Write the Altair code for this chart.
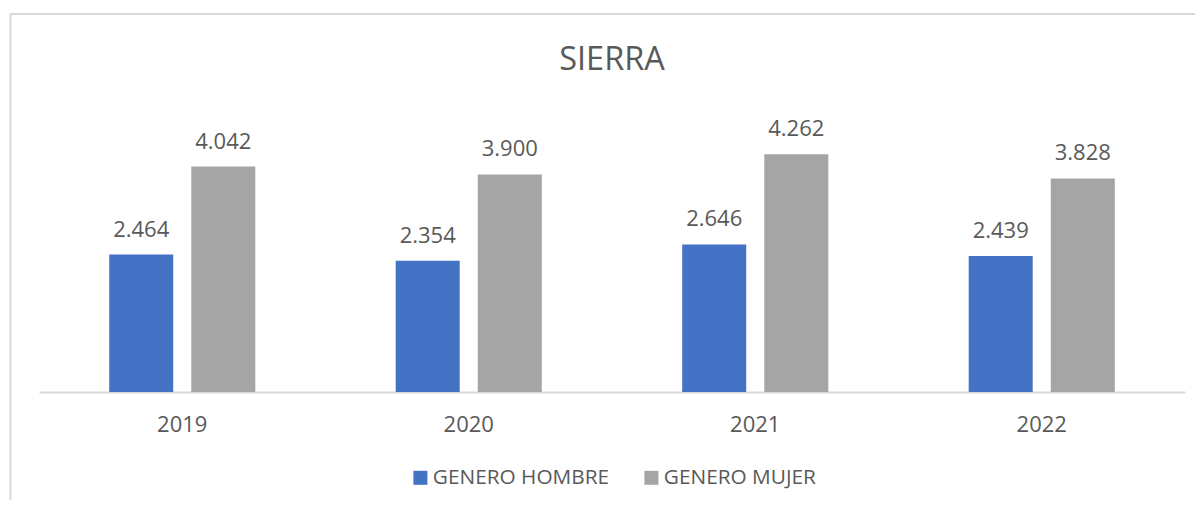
import altair as alt
import pandas as pd

years = ["2019", "2020", "2021", "2022"]
hombre = [2464, 2354, 2646, 2439]
mujer = [4042, 3900, 4262, 3828]
series = ["GENERO HOMBRE", "GENERO MUJER"]
colors = ["#4472C4", "#A5A5A5"]

rows = []
for i, y in enumerate(years):
    for s, vals in zip(series, [hombre, mujer]):
        v = vals[i]
        rows.append({"year": y, "serie": s, "value": v,
                     "label": f"{v:,}".replace(",", ".")})
df = pd.DataFrame(rows)

FONT = "Open Sans"
TXT = "#595959"
W, H = 1146, 251

x = alt.X("year:N", sort=years,
          scale=alt.Scale(paddingInner=0.49, paddingOuter=0.245),
          axis=alt.Axis(title=None, labelAngle=0, ticks=False, domainColor="#D9D9D9",
                        domainWidth=2, labelFont=FONT, labelFontSize=22,
                        labelColor=TXT, labelPadding=22, grid=False))
xoff = alt.XOffset("serie:N", sort=series,
                   scale=alt.Scale(paddingInner=0.22, paddingOuter=0))
y = alt.Y("value:Q", scale=alt.Scale(domain=[0, 4500]), axis=None)

bars = alt.Chart(df).mark_bar().encode(
    x=x, xOffset=xoff, y=y,
    color=alt.Color("serie:N", sort=series,
                    scale=alt.Scale(domain=series, range=colors),
                    legend=alt.Legend(title=None, orient="none", direction="horizontal",
                                      legendX=371, legendY=326,
                                      symbolType="square", symbolSize=196,
                                      symbolStrokeWidth=0, symbolOpacity=1,
                                      labelFont=FONT, labelFontSize=20.8,
                                      labelColor=TXT, labelOffset=2, labelLimit=400,
                                      columnPadding=31)),
)

labels = alt.Chart(df).mark_text(baseline="alphabetic", dy=-18, font=FONT,
                                 fontSize=22, color=TXT).encode(
    x=x, xOffset=xoff, y=y, text="label:N")

frame_df = pd.DataFrame({"a": [0]})
frame = alt.Chart(frame_df).mark_rect(fill=None, stroke="#D9D9D9", strokeWidth=2,
                                      clip=False).encode(
    x=alt.value(-28.5), x2=alt.value(1170), y=alt.value(-127), y2=alt.value(400))

chart = alt.layer(frame, bars, labels).properties(
    width=W, height=H,
    title=alt.TitleParams("SIERRA", font=FONT, fontSize=32.5, fontWeight="normal",
                          color=TXT, anchor="middle", offset=0, baseline="alphabetic",
                          dy=89),
    padding={"left": 31, "top": 133, "right": 10, "bottom": 108},
    autosize=alt.AutoSizeParams(type="none"),
).configure_view(stroke=None)

chart.save("out.html", embed_options={"renderer": "svg", "actions": False})
